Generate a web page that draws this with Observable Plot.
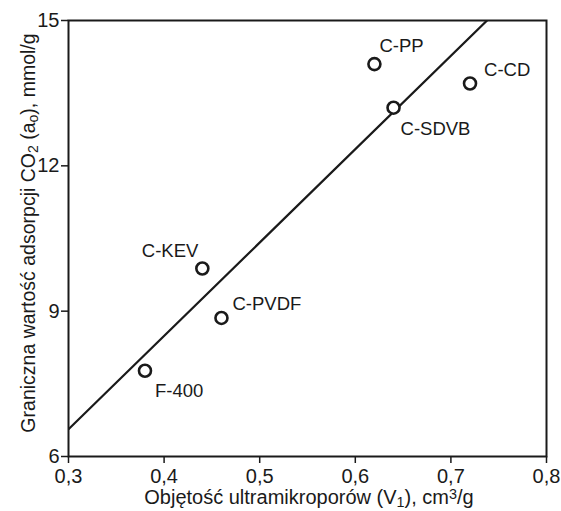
<!DOCTYPE html>
<html>
<head>
<meta charset="utf-8">
<script src="https://cdn.jsdelivr.net/npm/d3@7"></script>
<script src="https://cdn.jsdelivr.net/npm/@observablehq/plot@0.6"></script>
<style>
  html, body { margin: 0; padding: 0; background: #fff; }
  svg { overflow: visible; }
</style>
</head>
<body>
<div id="chart"></div>
<script>
// ---- data ----
const samples = ["C-PP", "C-CD", "C-SDVB", "C-KEV", "C-PVDF", "F-400"];
const volumeV1 = [0.62, 0.72, 0.64, 0.44, 0.46, 0.38];          // cm3/g
const adsorptionA0 = [14.1, 13.7, 13.2, 9.88, 8.86, 7.77];      // mmol/g
const xTicks = [0.3, 0.4, 0.5, 0.6, 0.7, 0.8];
const yTicks = [6, 9, 12, 15];
const xDomain = [0.3, 0.8];
const yDomain = [6, 15];

// ---- layout (label offsets, px) ----
const labelLayout = {
  "C-PP":   {dx: 5,   dy: -18, anchor: "start"},
  "C-CD":   {dx: 14,  dy: -13, anchor: "start"},
  "C-SDVB": {dx: 7,   dy: 21,  anchor: "start"},
  "C-KEV":  {dx: -4,  dy: -17, anchor: "end"},
  "C-PVDF": {dx: 11,  dy: -14, anchor: "start"},
  "F-400":  {dx: 10,  dy: 20,  anchor: "start"}
};

const points = samples.map((s, i) => ({name: s, x: volumeV1[i], y: adsorptionA0[i]}));

// least-squares fit through the points
const mx = d3.mean(points, d => d.x), my = d3.mean(points, d => d.y);
const slope = d3.sum(points, d => (d.x - mx) * (d.y - my)) / d3.sum(points, d => (d.x - mx) ** 2);
const intercept = my - slope * mx;
const fitLine = xDomain.map(x => ({x, y: intercept + slope * x}));

const fmt = d => d.toFixed(1).replace(".", ",");
const ink = "#1a1a1a";
const W = 561, H = 511;
const mL = 68, mR = 15, mT = 20, mB = 55;

const labelMarks = points.map(p => {
  const L = labelLayout[p.name];
  return Plot.text([p], {x: "x", y: "y", text: "name", dx: L.dx, dy: L.dy,
    textAnchor: L.anchor, fontSize: 18.5, fill: ink});
});

const chart = Plot.plot({
  width: W, height: H,
  marginLeft: mL, marginRight: mR, marginTop: mT, marginBottom: mB,
  style: {fontFamily: "'Liberation Sans', Arial, Helvetica, sans-serif", fontSize: "20px", color: ink, background: "#fff"},
  x: {domain: xDomain, label: null},
  y: {domain: yDomain, label: null},
  marks: [
    Plot.axisX({ticks: xTicks, tickFormat: fmt, tickSize: 7, tickPadding: 5, label: null, fontSize: 20, stroke: ink, strokeWidth: 1.5}),
    Plot.axisY({ticks: yTicks, tickSize: 7, tickPadding: 2, label: null, fontSize: 20, stroke: ink, strokeWidth: 1.5}),
    Plot.line(fitLine, {x: "x", y: "y", stroke: ink, strokeWidth: 2.2, clip: true}),
    Plot.frame({stroke: ink, strokeWidth: 2}),
    Plot.dot(points, {x: "x", y: "y", r: 6, stroke: ink, strokeWidth: 2.6, fill: "white"}),
    ...labelMarks
  ]
});

document.getElementById("chart").appendChild(chart);

// axis titles with sub/superscripts
const svg = d3.select(chart);
const font = "'Liberation Sans', Arial, Helvetica, sans-serif";

function addRich(g, parts) {
  parts.forEach(([t, shift]) => {
    const ts = g.append("tspan").text(t);
    if (shift) {
      ts.attr("baseline-shift", shift === "sub" ? "-0.2em" : "0.35em").attr("font-size", "0.72em");
    }
  });
}

const xt = svg.append("text")
  .attr("x", 309)
  .attr("y", 504)
  .attr("text-anchor", "middle")
  .attr("font-family", font).attr("font-size", 20).attr("fill", ink);
addRich(xt, [["Objętość ultramikroporów (V"], ["1", "sub"], ["), cm"], ["3", "super"], ["/g"]]);

const yt = svg.append("text")
  .attr("transform", `translate(35, 233) rotate(-90)`)
  .attr("text-anchor", "middle")
  .attr("font-family", font).attr("font-size", 19.5).attr("fill", ink);
addRich(yt, [["Graniczna wartość adsorpcji CO"], ["2", "sub"], [" (a"], ["o", "sub"], ["), mmol/g"]]);
</script>
</body>
</html>
